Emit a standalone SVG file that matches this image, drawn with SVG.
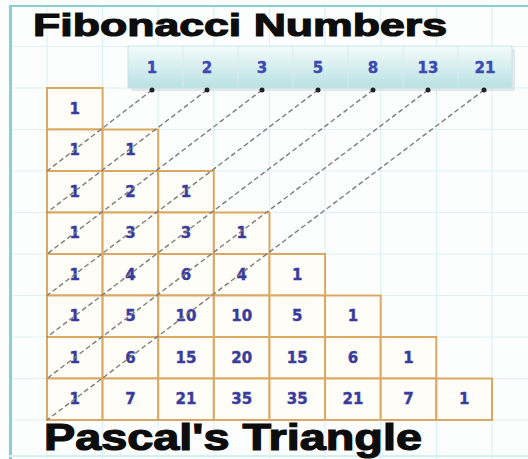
<svg xmlns="http://www.w3.org/2000/svg" width="528" height="459" viewBox="0 0 528 459">
<style>
.grid{stroke:#dcf2f0;stroke-width:1.2}
.cell rect{fill:#fefdf8;stroke:#d9a964;stroke-width:2}
.cell text,.fib text{font-family:"DejaVu Sans",sans-serif;font-weight:bold;font-size:15px;fill:#3a3c9c;stroke:#3a3c9c;stroke-width:0.4;text-anchor:middle;dominant-baseline:central}
.fib text{fill:#3b4bb0;stroke:#3b4bb0}
.conn line{stroke:#7d7d7d;stroke-width:1.4;stroke-dasharray:5 3}
.dot{fill:#222}
.title{font-family:"Liberation Sans",Arial,sans-serif;font-weight:bold;fill:#0d0d0d;stroke:#0d0d0d;stroke-width:1.2}
</style>
<defs>
<linearGradient id="bar" x1="0" y1="0" x2="0" y2="1">
<stop offset="0" stop-color="#f4fbfb"/>
<stop offset="1" stop-color="#b9e1e3"/>
</linearGradient>
</defs>
<rect width="528" height="459" fill="#fcfefe"/>
<g id="grid" class="grid">
<line x1="47" y1="6" x2="47" y2="459"/><line x1="102.6" y1="6" x2="102.6" y2="459"/><line x1="158.2" y1="6" x2="158.2" y2="459"/><line x1="213.9" y1="6" x2="213.9" y2="459"/><line x1="269.5" y1="6" x2="269.5" y2="459"/><line x1="325.1" y1="6" x2="325.1" y2="459"/><line x1="380.7" y1="6" x2="380.7" y2="459"/><line x1="436.4" y1="6" x2="436.4" y2="459"/><line x1="492" y1="6" x2="492" y2="459"/>
<line x1="10" y1="46.5" x2="528" y2="46.5"/><line x1="10" y1="88" x2="528" y2="88"/><line x1="10" y1="129.5" x2="528" y2="129.5"/><line x1="10" y1="171" x2="528" y2="171"/><line x1="10" y1="212.5" x2="528" y2="212.5"/><line x1="10" y1="254" x2="528" y2="254"/><line x1="10" y1="295.5" x2="528" y2="295.5"/><line x1="10" y1="337" x2="528" y2="337"/><line x1="10" y1="378.5" x2="528" y2="378.5"/><line x1="10" y1="420" x2="528" y2="420"/>
</g>
<g id="frame" fill="#86d0d0">
<rect x="9" y="5" width="3" height="454"/>
<rect x="9" y="5" width="519" height="2"/>
<rect x="9" y="455" width="519" height="2" fill="#d4f0f0"/>
</g>
<text class="title" x="33" y="36" font-size="32" textLength="414" lengthAdjust="spacingAndGlyphs">Fibonacci Numbers</text>
<g id="fib-bar" class="fib">
<rect x="131" y="49" width="384" height="42" fill="#cfd8d8" opacity="0.6"/>
<rect x="128" y="46" width="384" height="42" fill="url(#bar)" stroke="#c9e4e6" stroke-width="1"/>
<g stroke="#d8ecee" stroke-width="1"><line x1="183" y1="47" x2="183" y2="87"/><line x1="238" y1="47" x2="238" y2="87"/><line x1="293" y1="47" x2="293" y2="87"/><line x1="348" y1="47" x2="348" y2="87"/><line x1="403" y1="47" x2="403" y2="87"/><line x1="458" y1="47" x2="458" y2="87"/></g>
<text x="152" y="68">1</text><text x="207" y="68">2</text><text x="262" y="68">3</text><text x="318" y="68">5</text><text x="373" y="68">8</text><text x="428" y="68">13</text><text x="485" y="68">21</text>
</g>
<g id="r0"><g id="c0-0" class="cell"><rect x="47" y="88" width="55.6" height="41.5"/><text x="74.8" y="108.8">1</text></g></g>
<g id="r1">
<g id="c1-0" class="cell"><rect x="47" y="129.5" width="55.6" height="41.5"/><text x="74.8" y="150.3">1</text></g>
<g id="c1-1" class="cell"><rect x="102.6" y="129.5" width="55.6" height="41.5"/><text x="130.4" y="150.3">1</text></g>
</g>
<g id="r2">
<g id="c2-0" class="cell"><rect x="47" y="171" width="55.6" height="41.5"/><text x="74.8" y="191.8">1</text></g>
<g id="c2-1" class="cell"><rect x="102.6" y="171" width="55.6" height="41.5"/><text x="130.4" y="191.8">2</text></g>
<g id="c2-2" class="cell"><rect x="158.2" y="171" width="55.6" height="41.5"/><text x="186" y="191.8">1</text></g>
</g>
<g id="r3">
<g id="c3-0" class="cell"><rect x="47" y="212.5" width="55.6" height="41.5"/><text x="74.8" y="233.3">1</text></g>
<g id="c3-1" class="cell"><rect x="102.6" y="212.5" width="55.6" height="41.5"/><text x="130.4" y="233.3">3</text></g>
<g id="c3-2" class="cell"><rect x="158.2" y="212.5" width="55.6" height="41.5"/><text x="186" y="233.3">3</text></g>
<g id="c3-3" class="cell"><rect x="213.9" y="212.5" width="55.6" height="41.5"/><text x="241.7" y="233.3">1</text></g>
</g>
<g id="r4">
<g id="c4-0" class="cell"><rect x="47" y="254" width="55.6" height="41.5"/><text x="74.8" y="274.8">1</text></g>
<g id="c4-1" class="cell"><rect x="102.6" y="254" width="55.6" height="41.5"/><text x="130.4" y="274.8">4</text></g>
<g id="c4-2" class="cell"><rect x="158.2" y="254" width="55.6" height="41.5"/><text x="186" y="274.8">6</text></g>
<g id="c4-3" class="cell"><rect x="213.9" y="254" width="55.6" height="41.5"/><text x="241.7" y="274.8">4</text></g>
<g id="c4-4" class="cell"><rect x="269.5" y="254" width="55.6" height="41.5"/><text x="297.3" y="274.8">1</text></g>
</g>
<g id="r5">
<g id="c5-0" class="cell"><rect x="47" y="295.5" width="55.6" height="41.5"/><text x="74.8" y="316.3">1</text></g>
<g id="c5-1" class="cell"><rect x="102.6" y="295.5" width="55.6" height="41.5"/><text x="130.4" y="316.3">5</text></g>
<g id="c5-2" class="cell"><rect x="158.2" y="295.5" width="55.6" height="41.5"/><text x="186" y="316.3">10</text></g>
<g id="c5-3" class="cell"><rect x="213.9" y="295.5" width="55.6" height="41.5"/><text x="241.7" y="316.3">10</text></g>
<g id="c5-4" class="cell"><rect x="269.5" y="295.5" width="55.6" height="41.5"/><text x="297.3" y="316.3">5</text></g>
<g id="c5-5" class="cell"><rect x="325.1" y="295.5" width="55.6" height="41.5"/><text x="352.9" y="316.3">1</text></g>
</g>
<g id="r6">
<g id="c6-0" class="cell"><rect x="47" y="337" width="55.6" height="41.5"/><text x="74.8" y="357.8">1</text></g>
<g id="c6-1" class="cell"><rect x="102.6" y="337" width="55.6" height="41.5"/><text x="130.4" y="357.8">6</text></g>
<g id="c6-2" class="cell"><rect x="158.2" y="337" width="55.6" height="41.5"/><text x="186" y="357.8">15</text></g>
<g id="c6-3" class="cell"><rect x="213.9" y="337" width="55.6" height="41.5"/><text x="241.7" y="357.8">20</text></g>
<g id="c6-4" class="cell"><rect x="269.5" y="337" width="55.6" height="41.5"/><text x="297.3" y="357.8">15</text></g>
<g id="c6-5" class="cell"><rect x="325.1" y="337" width="55.6" height="41.5"/><text x="352.9" y="357.8">6</text></g>
<g id="c6-6" class="cell"><rect x="380.7" y="337" width="55.6" height="41.5"/><text x="408.5" y="357.8">1</text></g>
</g>
<g id="r7">
<g id="c7-0" class="cell"><rect x="47" y="378.5" width="55.6" height="41.5"/><text x="74.8" y="399.3">1</text></g>
<g id="c7-1" class="cell"><rect x="102.6" y="378.5" width="55.6" height="41.5"/><text x="130.4" y="399.3">7</text></g>
<g id="c7-2" class="cell"><rect x="158.2" y="378.5" width="55.6" height="41.5"/><text x="186" y="399.3">21</text></g>
<g id="c7-3" class="cell"><rect x="213.9" y="378.5" width="55.6" height="41.5"/><text x="241.7" y="399.3">35</text></g>
<g id="c7-4" class="cell"><rect x="269.5" y="378.5" width="55.6" height="41.5"/><text x="297.3" y="399.3">35</text></g>
<g id="c7-5" class="cell"><rect x="325.1" y="378.5" width="55.6" height="41.5"/><text x="352.9" y="399.3">21</text></g>
<g id="c7-6" class="cell"><rect x="380.7" y="378.5" width="55.6" height="41.5"/><text x="408.5" y="399.3">7</text></g>
<g id="c7-7" class="cell"><rect x="436.4" y="378.5" width="55.6" height="41.5"/><text x="464.2" y="399.3">1</text></g>
</g>
<g id="connectors" class="conn">
<line x1="152" y1="90" x2="47" y2="171"/>
<line x1="207" y1="90" x2="47" y2="212.5"/>
<line x1="262" y1="90" x2="47" y2="254"/>
<line x1="318" y1="90" x2="47" y2="295.5"/>
<line x1="373" y1="90" x2="47" y2="337"/>
<line x1="428" y1="90" x2="47" y2="378.5"/>
<line x1="484" y1="90" x2="47" y2="420"/>
</g>
<g id="dots" class="dot">
<circle cx="152" cy="90" r="2.5"/><circle cx="207" cy="90" r="2.5"/><circle cx="262" cy="90" r="2.5"/><circle cx="318" cy="90" r="2.5"/><circle cx="373" cy="90" r="2.5"/><circle cx="428" cy="90" r="2.5"/><circle cx="484" cy="90" r="2.5"/>
</g>
<text class="title" x="44" y="450" font-size="36" textLength="378" lengthAdjust="spacingAndGlyphs">Pascal's Triangle</text>
</svg>
